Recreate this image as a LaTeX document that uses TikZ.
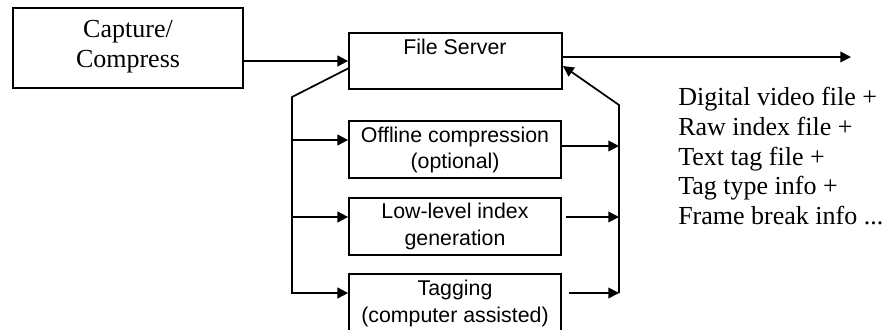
\documentclass[tikz,border=0pt]{standalone}
\usepackage{fontspec}
\setmainfont{Liberation Serif}
\newfontfamily\arialfont{Liberation Sans}
\usetikzlibrary{arrows.meta}
\begin{document}
\begin{tikzpicture}[x=0.75pt,y=-0.75pt,
  box/.style={draw,line width=1.3pt,rectangle,inner sep=0pt},
  sans/.style={font=\arialfont\fontsize{16}{18}\selectfont,align=center,inner sep=0pt},
  serif/.style={font=\fontsize{19.5}{22.3}\selectfont,inner sep=0pt},
  arr/.style={line width=1.3pt,-{Triangle[length=8pt,width=8pt]}}]
\useasboundingbox (0,0) rectangle (888,329);
% boxes
\node[box,minimum width=230*0.75pt,minimum height=80*0.75pt] (cap) at (128,48) {};
\node[serif,align=center] (capt) at (128,47) {Capture/\\Compress};
\node[box,minimum width=213*0.75pt,minimum height=56*0.75pt] (fs) at (455.5,61) {};
\node[sans] (fst) at (455,47) {File Server};
\node[box,minimum width=212*0.75pt,minimum height=57*0.75pt] (off) at (455,149.5) {};
\node[sans] (offt) at (455,150) {Offline compression\\[2pt](optional)};
\node[box,minimum width=212*0.75pt,minimum height=57*0.75pt] (low) at (455,226.5) {};
\node[sans] (lowt) at (455,226.5) {Low-level index\\[2pt]generation};
\node[box,minimum width=212*0.75pt,minimum height=70*0.75pt] (tag) at (455,309) {};
\node[sans] (tagt) at (455,303.5) {Tagging\\[2pt](computer assisted)};
\node[serif,anchor=north west,align=left,font=\fontsize{19.5}{22.3}\selectfont] (out) at (678,87)
  {Digital video file +\\Raw index file +\\Text tag file +\\Tag type info +\\Frame break info ...};
% coordinates
\coordinate (fsL) at (349,68);
\coordinate (L0) at (292,97);
\coordinate (L1) at (292,140);
\coordinate (L2) at (292,217);
\coordinate (L3) at (292,293);
\coordinate (R0) at (619,105);
\coordinate (R3) at (619,293);
\coordinate (fsR) at (563,66);
\coordinate (outS) at (561,57);
\coordinate (outE) at (851,57);
% connectors
\draw[arr] (cap.east |- fs.west) -- (fs.west);
\draw[arr] (fsL) -- (L0) -- (L3) -- (tag.west |- L3);
\draw[arr] (L1) -- (off.west |- L1);
\draw[arr] (L2) -- (low.west |- L2);
\draw[arr] (off.east |- 0,146) -- (619,146);
\draw[arr] ([xshift=3]low.east |- L2) -- (R0 |- L2);
\draw[arr] ([xshift=5]tag.east |- R3) -- (R3);
\draw[arr] (R3) -- (R0) -- (fsR);
\draw[arr] (outS) -- (outE);
\end{tikzpicture}
\end{document}
